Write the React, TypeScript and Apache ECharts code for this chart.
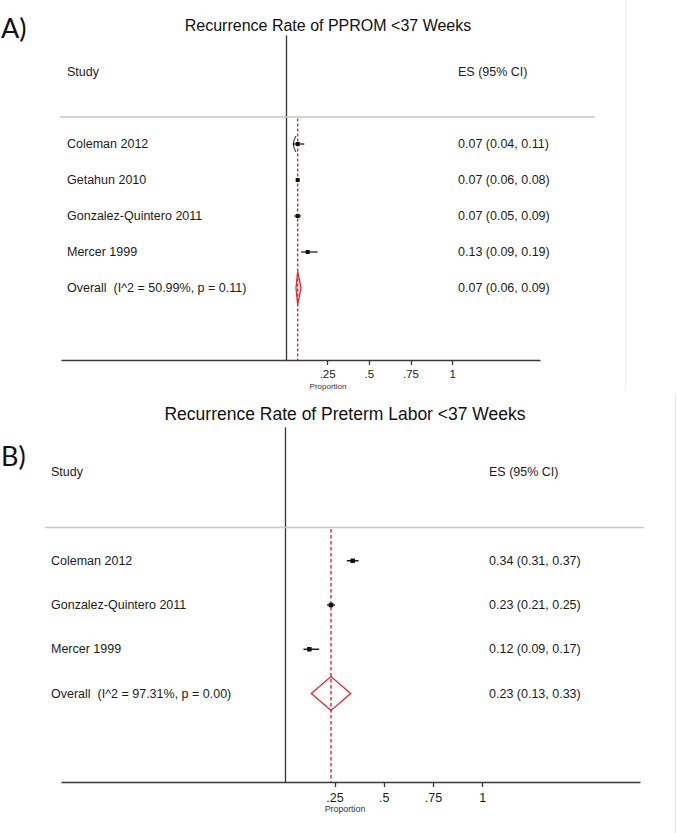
import { useEffect, useRef } from 'react';
import * as echarts from 'echarts';

// ---------- Panel A data ----------
const titleA = 'Recurrence Rate of PPROM <37 Weeks';
const studiesA = ['Coleman 2012', 'Getahun 2010', 'Gonzalez-Quintero 2011', 'Mercer 1999'];
const esA = [0.07, 0.07, 0.07, 0.13];
const lowA = [0.04, 0.06, 0.05, 0.09];
const highA = [0.11, 0.08, 0.09, 0.19];
const edgeArcA = [true, false, false, false];
const overallLabelA = 'Overall  (I^2 = 50.99%, p = 0.11)';
const overallA = [0.07, 0.06, 0.09];

// ---------- Panel B data ----------
const titleB = 'Recurrence Rate of Preterm Labor <37 Weeks';
const studiesB = ['Coleman 2012', 'Gonzalez-Quintero 2011', 'Mercer 1999'];
const esB = [0.34, 0.23, 0.12];
const lowB = [0.31, 0.21, 0.09];
const highB = [0.37, 0.25, 0.17];
const edgeArcB = [false, false, false];
const overallLabelB = 'Overall  (I^2 = 97.31%, p = 0.00)';
const overallB = [0.23, 0.13, 0.33];

// ---------- shared ----------
const tickValues = [0.25, 0.5, 0.75, 1];
const tickLabels = ['.25', '.5', '.75', '1'];
const headerStudy = 'Study';
const headerES = 'ES (95% CI)';
const axisName = 'Proportion';

const FONT = '"Liberation Sans", Arial, Helvetica, sans-serif';
const RED = '#e3242b';
const INK = '#1c1c1c';

const layoutA = {
  left: 62, right: 540, top: 36, bottom: 360, zeroPx: 286, pxPerUnit: 166.7,
  yMin: -3, yMax: 6, headerRow: -2, grayRow: -0.75,
  labelX: 67, esX: 458, grayX1: 60, grayX2: 595,
  fontSize: 12.5, tickFont: 11.5, tickMargin: 8, box: 4, ciWidth: 1.2, dh: 16.5, dash: [3, 2],
};
const layoutB = {
  left: 62, right: 640, top: 428, bottom: 782, zeroPx: 285.7, pxPerUnit: 197,
  yMin: -3, yMax: 5, headerRow: -2, grayRow: -0.75,
  labelX: 51, esX: 489, grayX1: 45, grayX2: 644,
  fontSize: 12.5, tickFont: 12.5, tickMargin: 9, box: 4.5, ciWidth: 1.4, dh: 17, dash: [3.5, 2.5],
};

function txt(x: number, y: number, text: string, size: number, align = 'left') {
  return {
    type: 'text', x, y,
    style: {
      text, fill: INK, fontSize: size, fontFamily: FONT,
      align, textAlign: align, verticalAlign: 'middle', textVerticalAlign: 'middle',
    },
  };
}

function fmtTick(v: number) {
  const i = tickValues.findIndex((t) => Math.abs(t - v) < 1e-6);
  return i >= 0 ? tickLabels[i] : '';
}

function axes(idx: number, L: any) {
  const xMin = (L.left - L.zeroPx) / L.pxPerUnit;
  const xMax = (L.right - L.zeroPx) / L.pxPerUnit;
  return {
    grid: { left: L.left, top: L.top, width: L.right - L.left, height: L.bottom - L.top },
    xAxis: {
      gridIndex: idx, type: 'value', min: xMin, max: xMax,
      axisLine: { show: true, onZero: false, lineStyle: { color: '#3a3a3a', width: 1.3 } },
      axisTick: { show: true, customValues: tickValues, length: 5, lineStyle: { color: '#3a3a3a', width: 1.3 } },
      axisLabel: {
        show: true, customValues: tickValues, formatter: fmtTick, margin: L.tickMargin,
        color: INK, fontSize: L.tickFont, fontFamily: FONT,
      },
      splitLine: { show: false },
    },
    yAxis: {
      gridIndex: idx, type: 'value', min: L.yMin, max: L.yMax, inverse: true,
      axisLine: { show: true, onZero: true, lineStyle: { color: '#333', width: 1.3 } },
      axisTick: { show: false }, axisLabel: { show: false }, splitLine: { show: false },
    },
  };
}

function decoSeries(idx: number, L: any, overall: number[]) {
  return {
    type: 'custom', xAxisIndex: idx, yAxisIndex: idx, clip: false, silent: true,
    data: [[overall[0], L.headerRow]], encode: { x: 0, y: 1 },
    renderItem: (_p: any, api: any) => {
      const hy = api.coord([0, L.headerRow])[1];
      const gy = api.coord([0, L.grayRow])[1];
      const [rx, ry1] = api.coord([api.value(0), L.grayRow]);
      const ry2 = api.coord([api.value(0), L.yMax])[1];
      return {
        type: 'group',
        children: [
          txt(L.labelX, hy, headerStudy, L.fontSize),
          txt(L.esX, hy, headerES, L.fontSize),
          { type: 'line', shape: { x1: L.grayX1, y1: gy, x2: L.grayX2, y2: gy }, style: { stroke: '#c6c6c6', lineWidth: 1.5 } },
          { type: 'line', shape: { x1: rx, y1: ry1 + 1.5, x2: rx, y2: ry2 }, style: { stroke: RED, lineWidth: 1.4, lineDash: L.dash } },
        ],
      };
    },
  };
}

function rowSeries(idx: number, L: any, studies: string[], es: number[], lo: number[], hi: number[], arcs: boolean[], overallLabel: string, overall: number[]) {
  const data: number[][] = studies.map((_, i) => [es[i], lo[i], hi[i], i, 0]);
  data.push([overall[0], overall[1], overall[2], studies.length, 1]);
  return {
    type: 'custom', xAxisIndex: idx, yAxisIndex: idx, clip: false, silent: true,
    data, encode: { x: 0, y: 3 },
    renderItem: (params: any, api: any) => {
      const i = params.dataIndex;
      const e = api.value(0), l = api.value(1), h = api.value(2), r = api.value(3);
      const isOverall = api.value(4) === 1;
      const [cx, cy] = api.coord([e, r]);
      const xl = api.coord([l, r])[0];
      const xh = api.coord([h, r])[0];
      const label = isOverall ? overallLabel : studies[i];
      const esText = `${e.toFixed(2)} (${l.toFixed(2)}, ${h.toFixed(2)})`;
      const children: any[] = [txt(L.labelX, cy, label, L.fontSize), txt(L.esX, cy, esText, L.fontSize)];
      if (isOverall) {
        children.push({
          type: 'polygon',
          shape: { points: [[xl, cy], [cx, cy - L.dh], [xh, cy], [cx, cy + L.dh]] },
          style: { fill: 'none', stroke: RED, lineWidth: 1.3 },
        });
      } else {
        children.push({ type: 'line', shape: { x1: xl, y1: cy, x2: xh, y2: cy }, style: { stroke: '#111', lineWidth: L.ciWidth } });
        children.push({ type: 'rect', shape: { x: cx - L.box / 2, y: cy - L.box / 2, width: L.box, height: L.box }, style: { fill: '#111' } });
        if (arcs[i]) {
          children.push({
            type: 'bezierCurve',
            shape: { x1: xl + 3.3, y1: cy - 8, cpx1: xl - 1.8, cpy1: cy, x2: xl + 3.3, y2: cy + 8 },
            style: { stroke: '#222', fill: 'none', lineWidth: 1 },
          });
        }
      }
      return { type: 'group', children };
    },
  };
}

export default function App() {
  const ref = useRef<HTMLDivElement>(null);
  useEffect(() => {
    if (!ref.current) return;
    const chart = echarts.init(ref.current, undefined, { renderer: 'svg' });
    const a = axes(0, layoutA);
    const b = axes(1, layoutB);
    chart.setOption({
      animation: false,
      backgroundColor: '#ffffff',
      grid: [a.grid, b.grid],
      xAxis: [a.xAxis, b.xAxis],
      yAxis: [a.yAxis, b.yAxis],
      series: [
        decoSeries(0, layoutA, overallA),
        rowSeries(0, layoutA, studiesA, esA, lowA, highA, edgeArcA, overallLabelA, overallA),
        decoSeries(1, layoutB, overallB),
        rowSeries(1, layoutB, studiesB, esB, lowB, highB, edgeArcB, overallLabelB, overallB),
      ],
      graphic: [
        { type: 'line', shape: { x1: 625.5, y1: 0, x2: 625.5, y2: 390 }, style: { stroke: '#eeeeee', lineWidth: 1 } },
        { type: 'line', shape: { x1: 675.5, y1: 394, x2: 675.5, y2: 833 }, style: { stroke: '#e6e6e6', lineWidth: 1 } },
        { type: 'text', x: 1, y: 27, style: { text: 'A)', fill: '#111', fontSize: 27, fontFamily: 'Lato, "Open Sans", sans-serif', textAlign: 'left', textVerticalAlign: 'middle', align: 'left', verticalAlign: 'middle' } },
        { type: 'text', x: 328, y: 25, style: { text: titleA, fill: '#111', fontSize: 16, fontFamily: FONT, textAlign: 'center', textVerticalAlign: 'middle', align: 'center', verticalAlign: 'middle' } },
        { type: 'text', x: 328, y: 386, style: { text: axisName, fill: '#333', fontSize: 8, fontFamily: FONT, textAlign: 'center', textVerticalAlign: 'middle', align: 'center', verticalAlign: 'middle' } },
        { type: 'text', x: 1, y: 455, style: { text: 'B)', fill: '#111', fontSize: 27, fontFamily: 'Lato, "Open Sans", sans-serif', textAlign: 'left', textVerticalAlign: 'middle', align: 'left', verticalAlign: 'middle' } },
        { type: 'text', x: 345, y: 414, style: { text: titleB, fill: '#111', fontSize: 17.5, fontFamily: FONT, textAlign: 'center', textVerticalAlign: 'middle', align: 'center', verticalAlign: 'middle' } },
        { type: 'text', x: 345, y: 809, style: { text: axisName, fill: '#333', fontSize: 8.8, fontFamily: FONT, textAlign: 'center', textVerticalAlign: 'middle', align: 'center', verticalAlign: 'middle' } },
      ],
    });
    return () => chart.dispose();
  }, []);
  return <div ref={ref} style={{ position: 'fixed', left: 0, top: 0, width: 677, height: 833, background: '#fff' }} />;
}
